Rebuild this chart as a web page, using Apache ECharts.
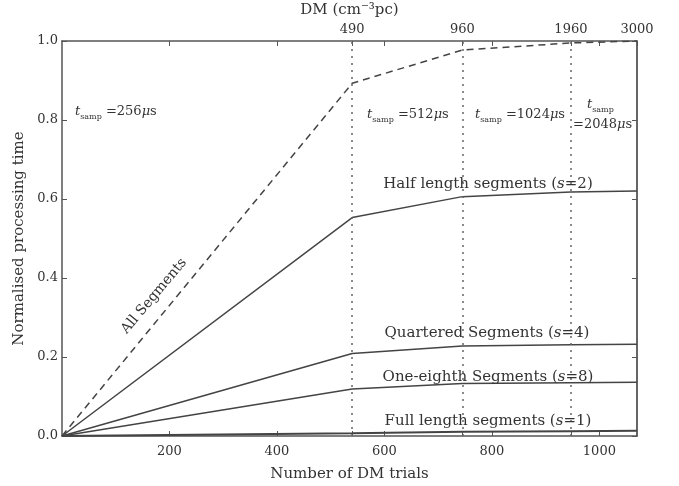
<!DOCTYPE html>
<html>
<head>
<meta charset="utf-8">
<script src="https://cdn.jsdelivr.net/npm/echarts@6/dist/echarts.min.js"></script>
<style>
html,body{margin:0;padding:0;background:#fff;}
#c{width:679px;height:486px;}
</style>
</head>
<body>
<div id="c"></div>
<script>
// ---- data ----
const trials = [0, 540, 745, 947, 1070];
const allSegments = [0, 0.893, 0.977, 0.995, 1.0];
const halfSeg = [0, 0.553, 0.606, 0.618, 0.620];
const quarterSeg = [0, 0.209, 0.228, 0.231, 0.232];
const eighthSeg = [0, 0.119, 0.133, 0.135, 0.136];
const fullSeg = [0, 0.007, 0.011, 0.012, 0.013];
const dmTickPos = [540, 745, 947, 1070];
const dmTickLabels = ['490', '960', '1960', '3000'];
const boundaryLines = [540, 745, 947];
const xTicks = [200, 400, 600, 800, 1000];

const FONT = 'DejaVu Serif';
const TXT = '#333';
const LINE = '#444';

function pairs(ys) { return trials.map((x, i) => [x, ys[i]]); }

const chart = echarts.init(document.getElementById('c'));

const rich = {
  t: {fontFamily: FONT, fontStyle: 'italic', fontSize: 13, color: TXT},
  sub: {fontFamily: FONT, fontSize: 8, color: TXT, padding: [9, 0, 0, 0]},
  n: {fontFamily: FONT, fontSize: 13, color: TXT},
  it: {fontFamily: FONT, fontStyle: 'italic', fontSize: 13, color: TXT}
};
const rich2 = {
  n: {fontFamily: FONT, fontSize: 15, color: TXT},
  it: {fontFamily: FONT, fontStyle: 'italic', fontSize: 15, color: TXT}
};

function tsamp(val) { return '{t|t}{sub|samp} {n|=' + val + '}{it|μ}{n|s}'; }

function txt(x, y, text, opts) {
  return {
    type: 'text', x: x, y: y, z: 100,
    style: Object.assign({text: text, rich: rich, font: '13px ' + FONT, fill: TXT, align: 'left', verticalAlign: 'middle'}, opts || {})
  };
}

const lineStyleBase = {color: LINE, width: 1.5};

const option = {
  backgroundColor: '#fff',
  animation: false,
  grid: {left: 62, right: 42, top: 41, bottom: 50, containLabel: false, outerBoundsMode: 'none'},
  xAxis: [
    {
      type: 'value', position: 'bottom', min: 0, max: 1070, interval: 200,
      name: 'Number of DM trials', nameLocation: 'middle', nameGap: 31,
      nameTextStyle: {fontFamily: FONT, fontSize: 15, color: TXT},
      axisLine: {show: true, onZero: false, lineStyle: {color: '#555', width: 1.5}},
      axisTick: {show: true, inside: true, length: 5, lineStyle: {color: '#555'},
        customValues: xTicks.concat(boundaryLines)},
      axisLabel: {customValues: xTicks, fontFamily: FONT, fontSize: 13, color: TXT, margin: 9,
        formatter: v => String(v)},
      splitLine: {show: false}
    },
    {
      type: 'value', position: 'top', min: 0, max: 1070,
      name: 'DM (cm⁻³pc)', nameLocation: 'middle', nameGap: 20,
      nameTextStyle: {fontFamily: FONT, fontSize: 15, color: TXT},
      axisLine: {show: true, onZero: false, lineStyle: {color: '#555', width: 1.5}},
      axisTick: {show: true, inside: true, length: 5, lineStyle: {color: '#555'},
        customValues: xTicks.concat(dmTickPos)},
      axisLabel: {customValues: dmTickPos, fontFamily: FONT, fontSize: 13, color: TXT, margin: 5,
        formatter: function (v) { const i = dmTickPos.indexOf(v); return i >= 0 ? dmTickLabels[i] : ''; }},
      splitLine: {show: false}
    }
  ],
  yAxis: [
    {
      type: 'value', min: 0, max: 1, interval: 0.2, position: 'left',
      name: 'Normalised processing time', nameLocation: 'middle', nameGap: 34,
      nameTextStyle: {fontFamily: FONT, fontSize: 15, color: TXT},
      axisLine: {show: true, onZero: false, lineStyle: {color: '#555', width: 1.5}},
      axisTick: {show: true, inside: true, length: 5, lineStyle: {color: '#555'}},
      axisLabel: {fontFamily: FONT, fontSize: 13, color: TXT, margin: 4, formatter: v => v.toFixed(1)},
      splitLine: {show: false}
    },
    {
      type: 'value', min: 0, max: 1, interval: 0.2, position: 'right',
      axisLine: {show: true, onZero: false, lineStyle: {color: '#333', width: 1.5}},
      axisTick: {show: true, inside: true, length: 5, lineStyle: {color: '#555'}},
      axisLabel: {show: false},
      splitLine: {show: false}
    }
  ],
  series: [
    {
      type: 'line', name: 'All Segments', data: pairs(allSegments), symbol: 'none',
      lineStyle: Object.assign({}, lineStyleBase, {type: [7, 5]}), z: 3,
      markLine: {
        silent: true, symbol: 'none', label: {show: false},
        lineStyle: {color: '#666', width: 1.5, type: [2, 5]},
        data: boundaryLines.map(v => ({xAxis: v}))
      }
    },
    {type: 'line', name: 'Half', data: pairs(halfSeg), symbol: 'none', lineStyle: lineStyleBase, z: 3},
    {type: 'line', name: 'Quarter', data: pairs(quarterSeg), symbol: 'none', lineStyle: lineStyleBase, z: 3},
    {type: 'line', name: 'Eighth', data: pairs(eighthSeg), symbol: 'none', lineStyle: lineStyleBase, z: 3},
    {type: 'line', name: 'Full', data: pairs(fullSeg), symbol: 'none', lineStyle: Object.assign({}, lineStyleBase, {width: 2}), z: 3}
  ],
  graphic: [
    txt(75, 112, tsamp('256')),
    txt(367, 115, tsamp('512')),
    txt(475, 115, tsamp('1024')),
    txt(587, 105, '{t|t}{sub|samp}'),
    txt(573, 125, '{n|=2048}{it|μ}{n|s}'),
    {
      type: 'text', x: 154, y: 296, rotation: 50 * Math.PI / 180, z: 100,
      style: {text: 'All Segments', font: '14px ' + FONT, fill: TXT, align: 'center', verticalAlign: 'middle'}
    },
    txt(488, 184, '{n|Half length segments (}{it|s}{n|=2)}', {rich: rich2, align: 'center'}),
    txt(487, 333, '{n|Quartered Segments (}{it|s}{n|=4)}', {rich: rich2, align: 'center'}),
    txt(488, 377, '{n|One-eighth Segments (}{it|s}{n|=8)}', {rich: rich2, align: 'center'}),
    txt(488, 421, '{n|Full length segments (}{it|s}{n|=1)}', {rich: rich2, align: 'center'})
  ]
};
chart.setOption(option);
</script>
</body>
</html>
